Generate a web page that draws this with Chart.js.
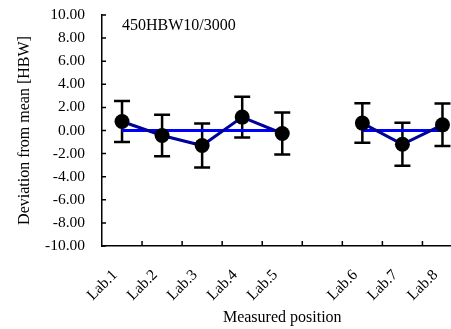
<!doctype html>
<html lang="en">
<head>
<meta charset="UTF-8" />
<title>Deviation from mean</title>
<style>
  html, body { margin: 0; padding: 0; overflow: hidden; background: #ffffff; }
  #wrap { width: 470px; height: 329px; }
</style>
<script src="https://cdn.jsdelivr.net/npm/chart.js"></script>
</head>
<body>
<div id="wrap"><canvas id="canvas" width="470" height="329"></canvas></div>
<script>
// values
const labs = ['Lab.1', 'Lab.2', 'Lab.3', 'Lab.4', 'Lab.5', '', 'Lab.6', 'Lab.7', 'Lab.8']
const deviation = [0.78, -0.43, -1.30, 1.16, -0.26, null, 0.64, -1.19, 0.49]
const errbar = [1.77, 1.80, 1.90, 1.77, 1.82, null, 1.71, 1.87, 1.84]
const meanLine = [0, 0, 0, 0, 0, null, 0, 0, 0]
const yTicks = [-10, -8, -6, -4, -2, 0, 2, 4, 6, 8, 10]
const note = '450HBW10/3000'

const serif = "'Liberation Serif', 'Times New Roman', serif"

// error bars, drawn under the lines and dots
const errorBars = {
  id: 'errorBars',
  beforeDatasetsDraw(chart) {
    const {ctx, scales: {x, y}} = chart
    ctx.save()
    ctx.strokeStyle = '#000000'
    ctx.lineWidth = 2.5
    deviation.forEach((v, i) => {
      if (v === null) return
      const px = x.getPixelForValue(i)
      const top = y.getPixelForValue(v + errbar[i])
      const bot = y.getPixelForValue(v - errbar[i])
      ctx.beginPath()
      ctx.moveTo(px, top); ctx.lineTo(px, bot)
      ctx.moveTo(px - 8, top); ctx.lineTo(px + 8, top)
      ctx.moveTo(px - 8, bot); ctx.lineTo(px + 8, bot)
      ctx.stroke()
    })
    ctx.restore()
  }
}

// small inward tick marks + the label in the corner
const decor = {
  id: 'decor',
  afterDraw(chart) {
    const {ctx, chartArea, scales: {x, y}} = chart
    ctx.save()
    ctx.strokeStyle = '#000000'
    ctx.lineWidth = 1.5
    ctx.beginPath()
    for (let i = 1; i <= labs.length; i++) {
      const bx = (x.getPixelForValue(i - 1) + x.getPixelForValue(i)) / 2
      const edge = i === labs.length ? chartArea.right : bx
      ctx.moveTo(edge, chartArea.bottom); ctx.lineTo(edge, chartArea.bottom - 5)
    }
    yTicks.forEach(t => {
      const py = y.getPixelForValue(t)
      ctx.moveTo(chartArea.left - 1, py); ctx.lineTo(chartArea.left + 4, py)
    })
    ctx.stroke()
    ctx.fillStyle = '#000000'
    ctx.font = '16px ' + serif
    ctx.textBaseline = 'middle'
    ctx.fillText(note, chartArea.left + 20, chartArea.top + 11)
    ctx.restore()
  }
}

new Chart(document.getElementById('canvas'), {
  type: 'line',
  data: {
    labels: labs,
    datasets: [
      {
        label: 'Mean',
        data: meanLine,
        borderColor: '#0000ff',
        borderWidth: 3,
        pointRadius: 0,
        spanGaps: false,
        order: 2
      },
      {
        label: 'Deviation',
        data: deviation,
        borderColor: '#00009a',
        borderWidth: 3,
        pointRadius: 7.5,
        pointBackgroundColor: '#000000',
        pointBorderColor: '#000000',
        pointBorderWidth: 0,
        spanGaps: false,
        order: 1
      }
    ]
  },
  options: {
    responsive: false,
    animation: false,
    layout: { padding: { top: 15, right: 0, bottom: 0, left: 0 } },
    plugins: {
      legend: { display: false },
      tooltip: { enabled: false }
    },
    scales: {
      x: {
        type: 'category',
        offset: true,
        grid: { display: false, drawTicks: false },
        border: { display: true, color: '#000000', width: 1.5 },
        ticks: {
          color: '#000000',
          font: { family: serif, size: 15.5 },
          minRotation: 45,
          maxRotation: 45,
          autoSkip: false,
          padding: 20,
          labelOffset: -7
        },
        title: {
          display: true,
          text: 'Measured position',
          color: '#000000',
          font: { family: serif, size: 16 },
          padding: { top: 0, bottom: 2 }
        },
        afterFit(scale) {
          scale.height = 83
          scale.paddingLeft = 0
          scale.paddingRight = 0
        }
      },
      y: {
        min: -10,
        max: 10,
        grid: { display: false, drawTicks: false },
        border: { display: true, color: '#000000', width: 1.5 },
        afterBuildTicks(scale) { scale.ticks = yTicks.map(v => ({value: v})) },
        ticks: {
          color: '#000000',
          font: { family: serif, size: 15.5 },
          padding: 17,
          callback: v => v.toFixed(2)
        },
        title: {
          display: true,
          text: 'Deviation from mean [HBW]',
          color: '#000000',
          font: { family: serif, size: 16 },
          padding: { top: 15, bottom: 0 }
        },
        afterFit(scale) {
          scale.width = 102
          scale.paddingTop = 0
          scale.paddingBottom = 0
        }
      }
    }
  },
  plugins: [errorBars, decor]
})
</script>
</body>
</html>
